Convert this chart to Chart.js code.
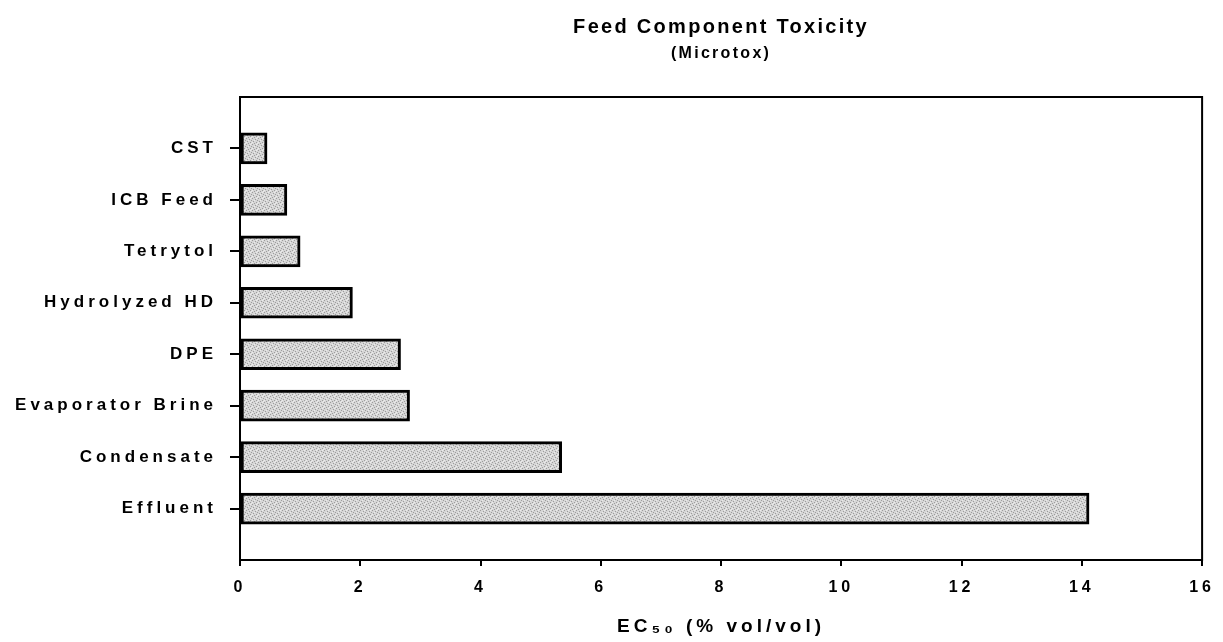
<!DOCTYPE html>
<html>
<head>
<meta charset="utf-8">
<script src="https://cdn.jsdelivr.net/npm/chart.js@4.4.1/dist/chart.umd.min.js"></script>
<style>
  html, body { margin: 0; padding: 0; background: #fff; }
  #wrap { width: 1223px; height: 642px; }
</style>
</head>
<body>
<div id="wrap"><canvas id="chartResult" width="1223" height="642"></canvas></div>

<script type="text/javascript">
    var categories = ['CST', 'ICB Feed', 'Tetrytol', 'Hydrolyzed HD', 'DPE', 'Evaporator Brine', 'Condensate', 'Effluent'];
    var ec50 = [0.45, 0.78, 1.0, 1.87, 2.67, 2.82, 5.35, 14.12];
    var xTicks = [0, 2, 4, 6, 8, 10, 12, 14, 16];

    var fontFam = '"Liberation Sans", Arial, sans-serif';

    // bars sit on a linear index axis so there is a blank slot above and below
    var points = [];
    for (var i = 0; i < ec50.length; i++) {
        points.push({x: ec50[i], y: i});
    }

    // stippled grey fill, fixed dot layout
    var pc = document.createElement('canvas');
    pc.width = 6; pc.height = 6;
    var pctx = pc.getContext('2d');
    pctx.fillStyle = '#d6d6d6';
    pctx.fillRect(0, 0, 6, 6);
    pctx.fillStyle = '#9c9c9c';
    [[0,0],[3,1],[1,3],[4,4],[2,5],[5,2]].forEach(function(p) { pctx.fillRect(p[0], p[1], 1, 1); });
    pctx.fillStyle = '#ebebeb';
    [[2,2],[5,5],[0,4],[4,0]].forEach(function(p) { pctx.fillRect(p[0], p[1], 1, 1); });
    var stipple = pctx.createPattern(pc, 'repeat');

    // titles drawn before datasets get tighter spacing, axes drawn after get wider
    var spacing = {
        id: 'spacing',
        beforeDraw: function(chart) {
            chart.ctx.letterSpacing = '2.3px';
        },
        beforeDatasetsDraw: function(chart) {
            chart.ctx.letterSpacing = '4px';
        }
    };

    var frame = {
        id: 'frame',
        afterDatasetsDraw: function(chart) {
            var a = chart.chartArea;
            var ctx = chart.ctx;
            ctx.save();
            ctx.strokeStyle = '#000';
            ctx.lineWidth = 2;
            ctx.strokeRect(a.left, a.top, a.right - a.left, a.bottom - a.top);
            ctx.restore();
        }
    };

    var ctx = document.getElementById('chartResult');
    var myChart = new Chart(ctx, {
        type: 'bar',
        data: {
            datasets: [{
                label: 'EC50',
                data: points,
                backgroundColor: stipple,
                borderColor: '#000',
                borderWidth: 3,
                borderSkipped: false,
                barThickness: 31
            }]
        },
        plugins: [spacing, frame],
        options: {
            indexAxis: 'y',
            responsive: false,
            animation: false,
            layout: { padding: { left: 0, right: 19, top: 0, bottom: 0 } },
            plugins: {
                legend: { display: false },
                tooltip: { enabled: false },
                title: {
                    display: true,
                    text: 'Feed Component Toxicity',
                    fullSize: false,
                    color: '#000',
                    font: { family: fontFam, size: 20, weight: 'bold', lineHeight: 1.2 },
                    padding: { top: 15, bottom: 5.4 }
                },
                subtitle: {
                    display: true,
                    text: '(Microtox)',
                    fullSize: false,
                    color: '#000',
                    font: { family: fontFam, size: 16, weight: 'bold', lineHeight: 1.2 },
                    padding: { top: 0, bottom: 33.4 }
                }
            },
            scales: {
                x: {
                    type: 'linear',
                    min: 0,
                    max: 16,
                    afterBuildTicks: function(scale) {
                        scale.ticks = xTicks.map(function(v) { return {value: v}; });
                    },
                    afterFit: function(scale) { scale.height = 82; },
                    grid: { drawOnChartArea: false, color: '#000', lineWidth: 2, tickLength: 6, z: 1 },
                    border: { color: '#000', width: 2, z: 1 },
                    ticks: {
                        color: '#000',
                        padding: 12,
                        maxRotation: 0,
                        z: 1,
                        font: { family: fontFam, size: 16, weight: 'bold' }
                    },
                    title: {
                        display: true,
                        text: 'EC\u2085\u2080 (% vol/vol)',
                        color: '#000',
                        padding: { top: 6 },
                        font: { family: fontFam, size: 19, weight: 'bold' }
                    }
                },
                y: {
                    type: 'linear',
                    reverse: true,
                    offset: false,
                    min: -1,
                    max: 8,
                    afterBuildTicks: function(scale) {
                        scale.ticks = categories.map(function(c, i) { return {value: i}; });
                    },
                    afterFit: function(scale) { scale.width = 240; },
                    grid: { offset: false, drawOnChartArea: false, color: '#000', lineWidth: 2, tickLength: 10, z: 1 },
                    border: { color: '#000', width: 2, z: 1 },
                    ticks: {
                        color: '#000',
                        padding: 13,
                        z: 1,
                        font: { family: fontFam, size: 17, weight: 'bold' },
                        callback: function(v) { return categories[v]; }
                    }
                }
            }
        }
    });
</script>
</body>
</html>
